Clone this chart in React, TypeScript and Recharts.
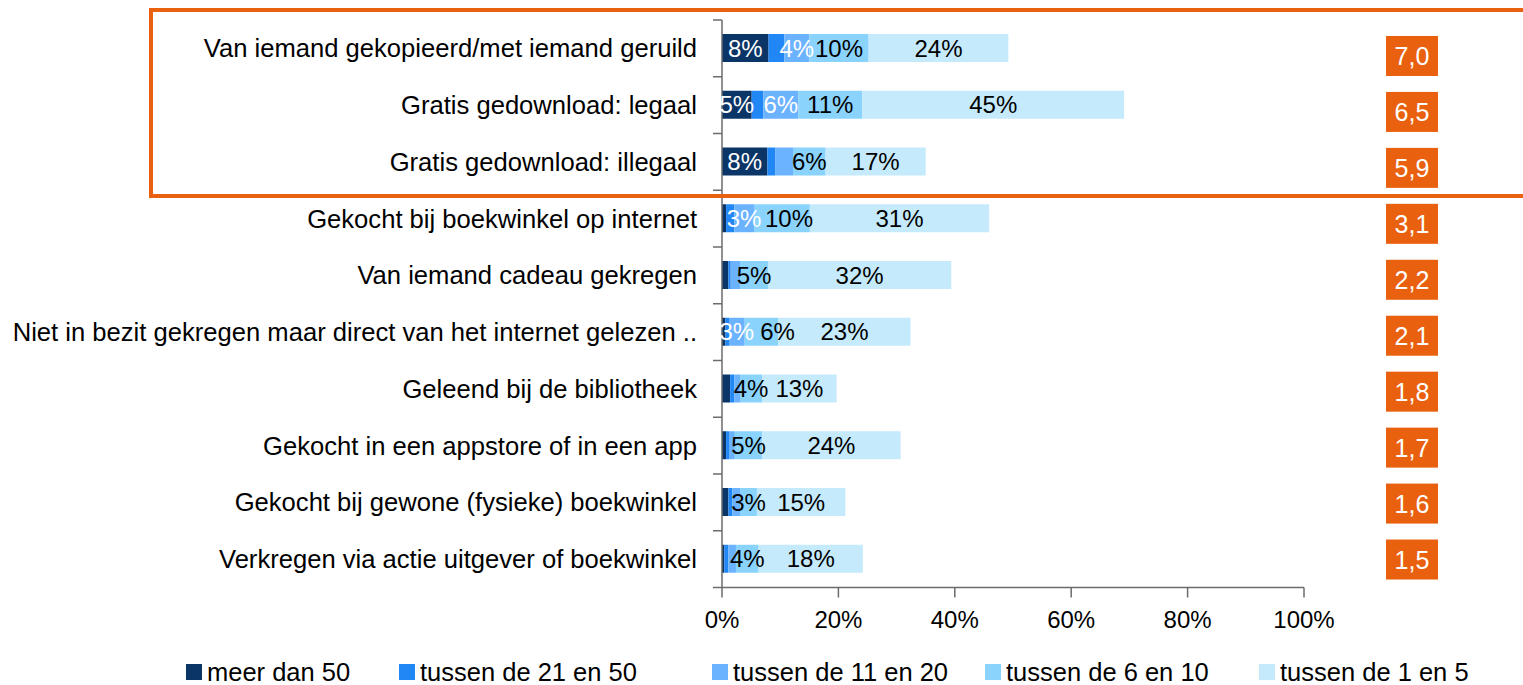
import { BarChart, Bar, XAxis, YAxis, Legend, LabelList } from "recharts";

const categories = [
  "Van iemand gekopieerd/met iemand geruild",
  "Gratis gedownload: legaal",
  "Gratis gedownload: illegaal",
  "Gekocht bij boekwinkel op internet",
  "Van iemand cadeau gekregen",
  "Niet in bezit gekregen maar direct van het internet gelezen ..",
  "Geleend bij de bibliotheek",
  "Gekocht in een appstore of in een app",
  "Gekocht bij gewone (fysieke) boekwinkel",
  "Verkregen via actie uitgever of boekwinkel",
];

const scores = ["7,0", "6,5", "5,9", "3,1", "2,2", "2,1", "1,8", "1,7", "1,6", "1,5"];

// percentages per category
const meerDan50 = [8, 5.1, 7.8, 0.7, 1.1, 0.6, 1.4, 0.7, 1.1, 0.4];
const tussen21en50 = [2.7, 2, 1.4, 1.4, 0.4, 0.6, 0.7, 0.5, 0.7, 0.7];
const tussen11en20 = [4.3, 6, 3, 3.4, 1.6, 2.7, 1, 1, 1.3, 1.3];
const tussen6en10 = [10.2, 11, 5.6, 9.6, 4.8, 5.8, 3.8, 4.7, 2.9, 3.9];
const tussen1en5 = [24, 45, 17.2, 30.8, 31.5, 22.7, 12.8, 23.8, 15.2, 17.9];

const seriesNames = [
  "meer dan 50",
  "tussen de 21 en 50",
  "tussen de 11 en 20",
  "tussen de 6 en 10",
  "tussen de 1 en 5",
];

const xTicks = [0, 20, 40, 60, 80, 100];

const keys = ["s0", "s1", "s2", "s3", "s4"];
const colors = ["#0A3566", "#2187F5", "#6BB2FF", "#8AD3FC", "#C5EAFC"];
const labelColors = ["#fff", "#fff", "#fff", "#000", "#000"];
const showLabels = [true, false, true, true, true];
// Excel dropped these labels (series index -> row indexes)
const droppedLabels: Record<number, number[]> = { 2: [2] };
// Excel pushed a few crowded labels sideways (series -> row -> px)
const labelNudge: Record<number, Record<number, number>> = { 3: { 3: 7, 5: 16 } };

const orange = "#E9610F";
const axisColor = "#6b6b6b";
const font = "'Liberation Sans', Arial, sans-serif";

const W = 1523;
const H = 685;
const TOP = 20;
const PLOT_BOTTOM = 587.5;
const band = (PLOT_BOTTOM - TOP) / categories.length;
const legendWidths = [213, 313, 273, 274, 250];

const data = categories.map((name, i) => ({
  name,
  score: scores[i],
  s0: meerDan50[i],
  s1: tussen21en50[i],
  s2: tussen11en20[i],
  s3: tussen6en10[i],
  s4: tussen1en5[i],
}));

function CategoryTick(props: any) {
  const { x, y, payload, index } = props;
  const axisX = x + 25;
  return (
    <g>
      <line x1={axisX - 9} x2={axisX} y1={y - band / 2} y2={y - band / 2} stroke={axisColor} strokeWidth={1.5} />
      {index === categories.length - 1 && (
        <line x1={axisX - 9} x2={axisX} y1={y + band / 2} y2={y + band / 2} stroke={axisColor} strokeWidth={1.5} />
      )}
      <text x={x} y={y} dy="0.35em" textAnchor="end" fill="#000" fontSize={25.6} fontFamily={font}>
        {payload.value}
      </text>
    </g>
  );
}

function ScoreTick(props: any) {
  const { x, y, payload } = props;
  return (
    <g>
      <rect x={x + 82} y={y - 20} width={52} height={40} fill={orange} />
      <text x={x + 108} y={y} dy="0.36em" textAnchor="middle" fill="#fff" fontSize={25} fontFamily={font}>
        {payload.value}
      </text>
    </g>
  );
}

function makeLabel(si: number) {
  return (props: any) => {
    const { x, y, width, height, value, index } = props;
    if (!showLabels[si]) return null;
    if ((droppedLabels[si] || []).includes(index)) return null;
    if (value < 2.5) return null;
    const nudge = (labelNudge[si] || {})[index] || 0;
    return (
      <text
        x={x + width / 2 + nudge}
        y={y + height / 2}
        dy="0.36em"
        textAnchor="middle"
        fill={labelColors[si]}
        fontSize={24}
        fontFamily={font}
      >
        {Math.round(value)}%
      </text>
    );
  };
}

function LegendContent() {
  return (
    <div style={{ display: "flex", alignItems: "center", height: 26, paddingLeft: 186, fontFamily: font, fontSize: 25.5 }}>
      {seriesNames.map((n, i) => (
        <div key={n} style={{ display: "flex", alignItems: "center", width: legendWidths[i], whiteSpace: "nowrap" }}>
          <span style={{ display: "inline-block", width: 16, height: 16, background: colors[i], marginRight: 5 }} />
          <span style={{ color: "#000" }}>{n}</span>
        </div>
      ))}
    </div>
  );
}

export default function App() {
  return (
    <div style={{ position: "absolute", left: 0, top: 0, width: W, height: H, background: "#fff", overflow: "hidden" }}>
      <BarChart
        width={W}
        height={H}
        data={data}
        layout="vertical"
        margin={{ top: TOP, right: 0, bottom: H - PLOT_BOTTOM - 26 - 60, left: 0 }}
      >
        <XAxis
          type="number"
          domain={[0, 100]}
          ticks={xTicks}
          tickFormatter={(v) => `${v}%`}
          height={60}
          tickSize={10}
          tickMargin={13}
          stroke={axisColor}
          strokeWidth={1.5}
          tick={{ fill: "#000", fontSize: 24, fontFamily: font }}
        />
        <YAxis
          yAxisId="cat"
          type="category"
          dataKey="name"
          width={722}
          tickSize={0}
          tickMargin={25}
          stroke={axisColor}
          strokeWidth={1.5}
          tick={<CategoryTick />}
          interval={0}
        />
        <YAxis
          yAxisId="score"
          orientation="right"
          type="category"
          dataKey="score"
          width={W - 1304}
          tickSize={0}
          tickMargin={0}
          axisLine={false}
          tickLine={false}
          padding={{ top: 8, bottom: 0 }}
          tick={<ScoreTick />}
          interval={0}
        />
        <Legend verticalAlign="bottom" wrapperStyle={{ left: 0, bottom: 0 }} content={<LegendContent />} />
        {keys.map((k, si) => (
          <Bar
            key={k}
            yAxisId="cat"
            dataKey={k}
            name={seriesNames[si]}
            stackId="a"
            fill={colors[si]}
            barSize={28}
            isAnimationActive={false}
          >
            <LabelList dataKey={k} content={makeLabel(si)} />
          </Bar>
        ))}
      </BarChart>
      <div
        style={{
          position: "absolute",
          left: 149,
          top: 7.5,
          width: W,
          height: 190.5,
          border: `4px solid ${orange}`,
          boxSizing: "border-box",
          pointerEvents: "none",
        }}
      />
    </div>
  );
}
